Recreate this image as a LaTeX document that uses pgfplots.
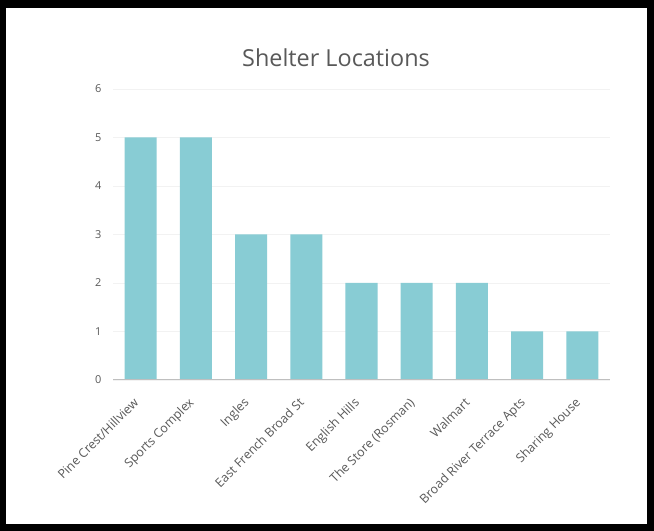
\documentclass[border=0pt]{standalone}
\usepackage{pgfplots}
\pgfplotsset{compat=1.18}
\usepackage{fontspec}
\setmainfont{Open Sans}
\definecolor{bar}{RGB}{136,204,212}
\definecolor{txt}{RGB}{89,89,89}
\definecolor{gridc}{RGB}{242,242,242}
\definecolor{axc}{RGB}{191,191,191}
\begin{document}
\begin{tikzpicture}
% frame
\fill[black] (0,0) rectangle (654bp,531bp);
\fill[white] (6bp,7bp) rectangle (647bp,523bp);
\node[text=txt, font=\fontsize{23.5}{27}\selectfont] at (336bp,473bp) {Shelter Locations};
\begin{axis}[
    at={(113bp,151bp)}, anchor=south west,
    scale only axis,
    width=497bp, height=291bp,
    ybar, bar width=0.58,
    xmin=-0.5, xmax=8.5,
    ymin=0, ymax=6,
    ytick={0,1,...,6},
    xtick=data,
    xticklabels={Pine Crest/Hillview, Sports Complex, Ingles, East French Broad St, English Hills, The Store (Rosman), Walmart, Broad River Terrace Apts, Sharing House},
    xticklabel style={rotate=45, anchor=north east, inner sep=0pt, xshift=-17.5bp, yshift=-6bp, font=\fontsize{12.5}{14}\selectfont, text=txt},
    yticklabel style={font=\fontsize{11}{13}\selectfont, text=txt, xshift=-8pt},
    /pgf/number format/assume math mode=true,
    major tick length=0pt,
    axis line style={draw=none},
    ymajorgrids=true,
    grid style={gridc, line width=0.8pt},
]
\addplot[fill=bar, draw=none] coordinates {
(0,5)(1,5)(2,3)(3,3)(4,2)(5,2)(6,2)(7,1)(8,1)
};
\draw[axc, line width=1.5pt] (rel axis cs:0,0) -- (rel axis cs:1,0);
\end{axis}
\end{tikzpicture}
\end{document}
